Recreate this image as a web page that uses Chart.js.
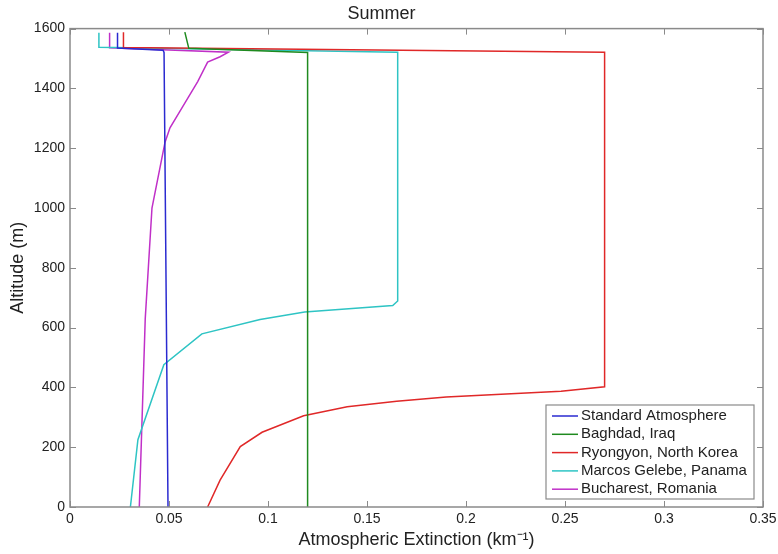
<!doctype html>
<html lang="en">
<head>
  <meta charset="utf-8" />
  <title>Summer - Atmospheric Extinction</title>
  <script src="https://cdn.jsdelivr.net/npm/chart.js"></script>
  <style>
    html, body { margin: 0; padding: 0; background: #fff; }
    #wrap { width: 778px; height: 554px; }
  </style>
</head>
<body>
  <div id="wrap"><canvas id="chart" width="778" height="554"></canvas></div>

  <script>
    // Profiles: extinction (km^-1) against altitude (m)
    const stdAlt = [0, 1520, 1528, 1535, 1586];
    const stdExt = [0.0495, 0.0475, 0.047, 0.024, 0.024];

    const baghdadAlt = [0, 1520, 1534, 1588];
    const baghdadExt = [0.12, 0.12, 0.060, 0.058];

    const ryongyonAlt = [0, 90, 202, 250, 305, 335, 354, 368, 387, 402, 1521, 1537, 1588];
    const ryongyonExt = [0.0695, 0.0758, 0.086, 0.097, 0.118, 0.140, 0.165, 0.19, 0.248, 0.270, 0.270, 0.027, 0.027];

    const marcosAlt = [0, 225, 476, 579, 627, 652, 674, 689, 1521, 1538, 1586];
    const marcosExt = [0.0305, 0.0343, 0.0474, 0.0666, 0.096, 0.1185, 0.163, 0.1655, 0.1655, 0.0146, 0.0146];

    const bucharestAlt = [0, 630, 1000, 1220, 1268, 1340, 1423, 1488, 1506, 1521, 1536, 1586];
    const bucharestExt = [0.035, 0.038, 0.0414, 0.048, 0.0505, 0.057, 0.0645, 0.0695, 0.0758, 0.080, 0.020, 0.020];

    const seriesNames = ['Standard Atmosphere', 'Baghdad, Iraq', 'Ryongyon, North Korea', 'Marcos Gelebe, Panama', 'Bucharest, Romania'];
    const seriesColors = ['#2a2ad0', '#1f8a1f', '#e02828', '#2ec4c4', '#c030c8'];

    const xTicks = [0, 0.05, 0.1, 0.15, 0.2, 0.25, 0.3, 0.35];
    const yTicks = [0, 200, 400, 600, 800, 1000, 1200, 1400, 1600];

    const profiles = [
      [stdExt, stdAlt],
      [baghdadExt, baghdadAlt],
      [ryongyonExt, ryongyonAlt],
      [marcosExt, marcosAlt],
      [bucharestExt, bucharestAlt]
    ];

    const datasets = profiles.map((p, i) => ({
      label: seriesNames[i],
      data: p[0].map((x, j) => ({ x: x, y: p[1][j] })),
      borderColor: seriesColors[i],
      backgroundColor: seriesColors[i],
      borderWidth: 1.5,
      pointRadius: 0,
      showLine: true,
      fill: false,
      tension: 0
    }));

    const axisColor = '#8a8a8a';
    const textColor = '#222';
    const fontFamily = '"Liberation Sans", Arial, sans-serif';

    // box round the plot, inward ticks on all sides, and the legend inside the plot
    const matlabAxes = {
      id: 'matlabAxes',
      afterDraw(chart) {
        const ctx = chart.ctx;
        const a = chart.chartArea;
        const xs = chart.scales.x, ys = chart.scales.y;
        ctx.save();
        ctx.strokeStyle = axisColor;
        ctx.lineWidth = 1.5;
        ctx.strokeRect(a.left, a.top, a.right - a.left, a.bottom - a.top);
        ctx.lineWidth = 1;
        const tl = 6;
        ctx.beginPath();
        xTicks.forEach(v => {
          const px = Math.round(xs.getPixelForValue(v)) + 0.5;
          ctx.moveTo(px, a.bottom); ctx.lineTo(px, a.bottom - tl);
          ctx.moveTo(px, a.top); ctx.lineTo(px, a.top + tl);
        });
        yTicks.forEach(v => {
          const py = Math.round(ys.getPixelForValue(v)) + 0.5;
          ctx.moveTo(a.left, py); ctx.lineTo(a.left + tl, py);
          ctx.moveTo(a.right, py); ctx.lineTo(a.right - tl, py);
        });
        ctx.stroke();

        // legend
        const bx = 546, by = 405, bw = 208, bh = 94;
        ctx.fillStyle = '#fff';
        ctx.fillRect(bx, by, bw, bh);
        ctx.strokeStyle = axisColor;
        ctx.lineWidth = 1.2;
        ctx.strokeRect(bx, by, bw, bh);
        ctx.font = '15px ' + fontFamily;
        ctx.textBaseline = 'middle';
        ctx.textAlign = 'left';
        chart.data.datasets.forEach((ds, i) => {
          const ry = by + 11 + i * 18.3;
          ctx.strokeStyle = ds.borderColor;
          ctx.lineWidth = 1.5;
          ctx.beginPath();
          ctx.moveTo(bx + 6, ry); ctx.lineTo(bx + 32, ry);
          ctx.stroke();
          ctx.fillStyle = textColor;
          ctx.fillText(ds.label, bx + 35, ry);
        });
        ctx.restore();
      }
    };

    new Chart(document.getElementById('chart'), {
      type: 'scatter',
      data: { datasets: datasets },
      plugins: [matlabAxes],
      options: {
        responsive: false,
        animation: false,
        layout: { padding: { left: 0, right: 15, top: 0, bottom: 0 } },
        plugins: {
          legend: { display: false },
          tooltip: { enabled: false },
          title: {
            display: true,
            text: 'Summer',
            color: textColor,
            font: { family: fontFamily, size: 18, weight: 'normal' },
            padding: { top: 3, bottom: 4 }
          }
        },
        scales: {
          x: {
            type: 'linear',
            min: 0,
            max: 0.35,
            afterFit: s => { s.height = 47; s.paddingLeft = 0; s.paddingRight = 0; },
            afterBuildTicks: s => { s.ticks = xTicks.map(v => ({ value: v })); },
            grid: { display: false, drawTicks: false },
            border: { display: false },
            ticks: {
              color: textColor,
              padding: 4,
              maxRotation: 0,
              font: { family: fontFamily, size: 14 },
              callback: v => String(Number(v.toFixed(2)))
            },
            title: {
              display: true,
              text: 'Atmospheric Extinction (km\u207B\u00B9)',
              color: textColor,
              padding: { top: 0, bottom: 3 },
              font: { family: fontFamily, size: 18 }
            }
          },
          y: {
            type: 'linear',
            min: 0,
            max: 1600,
            afterFit: s => { s.width = 70; s.paddingTop = 0; s.paddingBottom = 0; },
            afterBuildTicks: s => { s.ticks = yTicks.map(v => ({ value: v })); },
            grid: { display: false, drawTicks: false },
            border: { display: false },
            ticks: {
              color: textColor,
              padding: 5,
              font: { family: fontFamily, size: 14 },
              callback: v => String(v)
            },
            title: {
              display: true,
              text: 'Altitude (m)',
              color: textColor,
              padding: { top: 7, bottom: 0 },
              font: { family: fontFamily, size: 18 }
            }
          }
        }
      }
    });
  </script>
</body>
</html>
